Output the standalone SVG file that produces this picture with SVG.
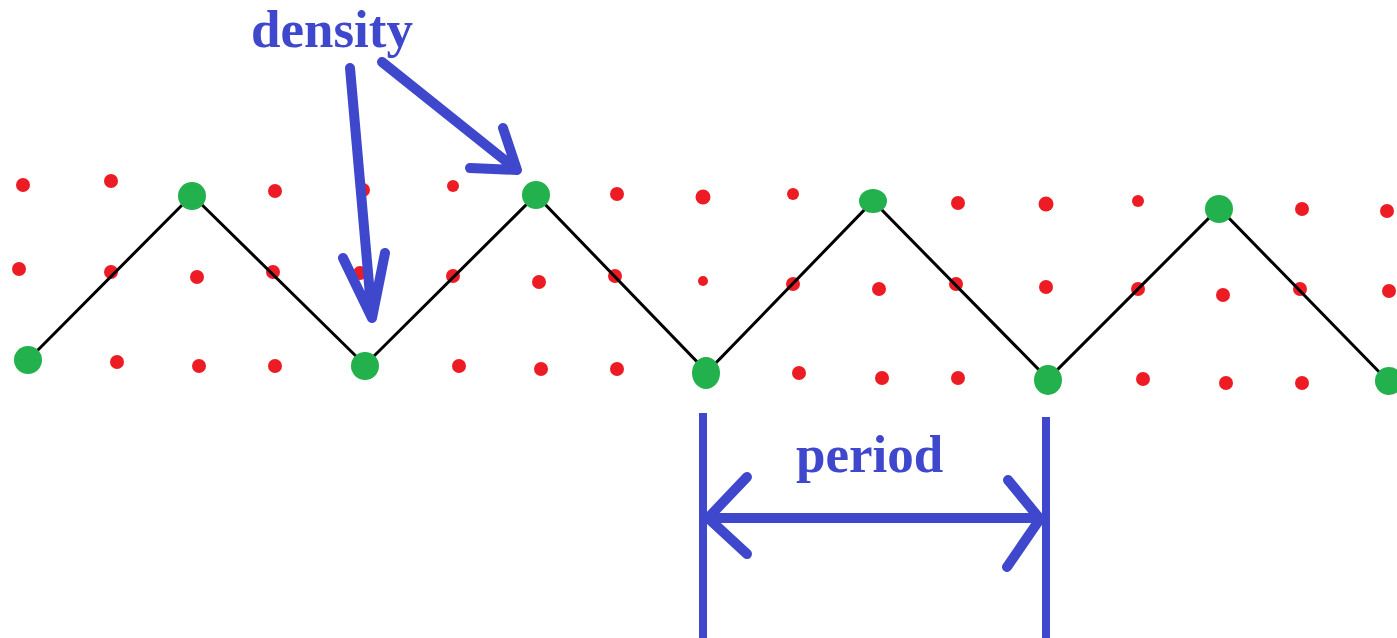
<svg xmlns="http://www.w3.org/2000/svg" width="1397" height="638" viewBox="0 0 1397 638">
<style>
.r{fill:#ed1c24}
.g{fill:#22b14c}
.zz{fill:none;stroke:#000;stroke-width:3;stroke-linejoin:miter}
.b{fill:none;stroke:#3f48cc;stroke-width:10;stroke-linecap:round;stroke-linejoin:round}
.bl{fill:none;stroke:#3f48cc;stroke-width:8;stroke-linecap:butt}
.t{font-family:"Liberation Serif",serif;font-weight:bold;font-size:53px;fill:#3f48cc}
</style>
<rect width="1397" height="638" fill="#fff"/>
<g id="lattice">
<circle class="r" cx="23" cy="185" r="7"/><circle class="r" cx="111" cy="181" r="7"/><circle class="r" cx="275" cy="191" r="7"/><circle class="r" cx="363" cy="190" r="7"/><circle class="r" cx="453" cy="186" r="6"/><circle class="r" cx="617" cy="194" r="7"/><circle class="r" cx="703" cy="197" r="7.5"/><circle class="r" cx="793" cy="194" r="6"/><circle class="r" cx="958" cy="203" r="7"/><circle class="r" cx="1046" cy="204" r="7.5"/><circle class="r" cx="1138" cy="201" r="6"/><circle class="r" cx="1302" cy="209" r="7"/><circle class="r" cx="1387" cy="211" r="7"/>
<circle class="r" cx="19" cy="269" r="7"/><circle class="r" cx="111" cy="272" r="7"/><circle class="r" cx="197" cy="277" r="7"/><circle class="r" cx="273" cy="272" r="7"/><circle class="r" cx="360" cy="273" r="7"/><circle class="r" cx="453" cy="276" r="7"/><circle class="r" cx="539" cy="282" r="7"/><circle class="r" cx="615" cy="276" r="7"/><circle class="r" cx="703" cy="281" r="5"/><circle class="r" cx="793" cy="284" r="7"/><circle class="r" cx="879" cy="289" r="7"/><circle class="r" cx="956" cy="284" r="7"/><circle class="r" cx="1046" cy="287" r="7"/><circle class="r" cx="1138" cy="289" r="7"/><circle class="r" cx="1223" cy="295" r="7"/><circle class="r" cx="1300" cy="289" r="7"/><circle class="r" cx="1389" cy="291" r="7"/>
<circle class="r" cx="117" cy="362" r="7"/><circle class="r" cx="199" cy="366" r="7"/><circle class="r" cx="275" cy="366" r="7"/><circle class="r" cx="459" cy="366" r="7"/><circle class="r" cx="541" cy="369" r="7"/><circle class="r" cx="617" cy="369" r="7"/><circle class="r" cx="799" cy="373" r="7"/><circle class="r" cx="882" cy="378" r="7"/><circle class="r" cx="958" cy="378" r="7"/><circle class="r" cx="1143" cy="379" r="7"/><circle class="r" cx="1226" cy="383" r="7"/><circle class="r" cx="1302" cy="383" r="7"/>
</g>
<g id="connectors">
<polyline class="zz" points="28,360 192,195 365,365 536,195 707,372 873,201 1048,379 1219,208 1387,380"/>
<path class="b" d="M350,68 L372,318 M343,258 L372,318 L385,253"/>
<path class="b" d="M382,62 L517,170 M503,128 L517,170 L470,168"/>
<path class="bl" d="M703,413 V638 M1046,417 V638"/>
<path class="b" d="M708,518 H1040 M747,477 L708,518 L747,554 M1008,480 L1040,519 L1007,567"/>
</g>
<g id="curve-points">
<g id="p1"><circle class="g" cx="28" cy="360" r="14"/></g>
<g id="p2"><circle class="g" cx="192" cy="196" r="14"/></g>
<g id="p3"><circle class="g" cx="365" cy="366" r="14"/></g>
<g id="p4"><circle class="g" cx="536" cy="195" r="14"/></g>
<g id="p5"><ellipse class="g" cx="706" cy="373" rx="14" ry="16"/></g>
<g id="p6"><ellipse class="g" cx="873" cy="201" rx="14" ry="12"/></g>
<g id="p7"><ellipse class="g" cx="1048" cy="380" rx="14" ry="15"/></g>
<g id="p8"><circle class="g" cx="1219" cy="209" r="14"/></g>
<g id="p9"><circle class="g" cx="1389" cy="381" r="14"/></g>
</g>
<g id="label-density"><text class="t" x="251" y="47">density</text></g>
<g id="label-period"><text class="t" x="796" y="472">period</text></g>
</svg>
